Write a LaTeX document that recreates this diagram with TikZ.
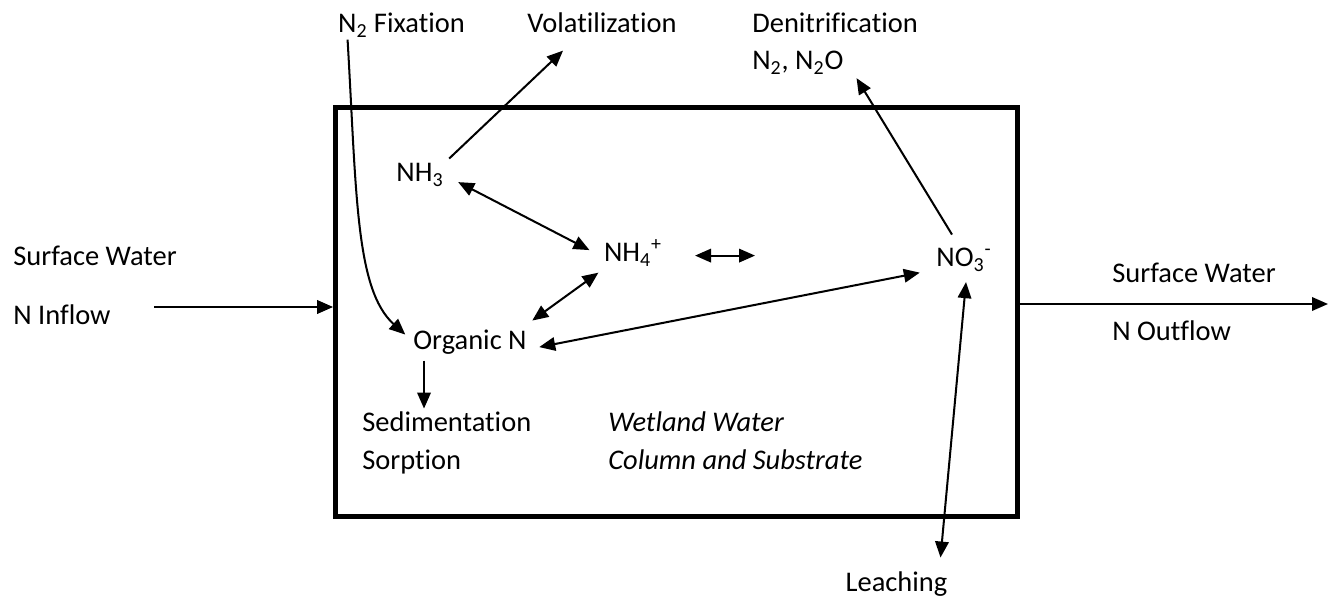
\documentclass[tikz,border=0pt]{standalone}
\usepackage{fontspec}
\setmainfont[Ligatures={NoCommon}]{Carlito}
\usetikzlibrary{arrows.meta,positioning,calc}

\begin{document}
\begin{tikzpicture}[
  x=0.02cm, y=-0.02cm,
  lbl/.style={font=\fontsize{16.2}{19}\selectfont, inner sep=3pt, text height=10pt, text depth=3pt},
  lblw/.style={lbl, anchor=west},
  wetbox/.style={rectangle, draw, line width=2.8pt, minimum width=13.64cm, minimum height=8.18cm},
  arr/.style={-{Triangle[length=0.32cm, width=0.27cm]}, line width=1.15pt},
  darr/.style={{Triangle[length=0.32cm, width=0.27cm]}-{Triangle[length=0.32cm, width=0.27cm]}, line width=1.15pt}
]
  \useasboundingbox (0,0) rectangle (1339,601);

  % --- 1. WETLAND BOX ---
  \node[wetbox] (wetland) at (676.5,312) {};

  % --- 2. LABELS OUTSIDE ---
  \node[lbl] (fix) at (401.5,26.6) {N\textsubscript{2} Fixation};
  \node[lbl] (vol) at (602,26.6) {Volatilization};
  \node[lblw] (denit) at (746.7,26.1) {Denitrification};
  \node[lblw] (n2o) at (746.7,63.6) {N\textsubscript{2}, N\textsubscript{2}O};
  \node[lblw] (swin) at (7.7,259.6) {Surface Water};
  \node[lblw] (nin) at (7.7,318.1) {N Inflow};
  \node[lblw] (swout) at (1106.7,276.1) {Surface Water};
  \node[lblw] (nout) at (1106.7,334.1) {N Outflow};
  \node[lbl] (leach) at (896.5,585.6) {Leaching};

  % --- 3. N FORMS INSIDE ---
  \node[lbl] (nh3) at (420,175.6) {NH\textsubscript{3}};
  \node[lbl] (nh4) at (633,255.6) {NH\textsubscript{4}\textsuperscript{+}};
  \node[lbl] (no3) at (964,260.6) {NO\textsubscript{3}\textsuperscript{-}};
  \node[lbl] (orgn) at (470,343.6) {Organic N};
  \node[lblw] (sed) at (356.7,425.6) {Sedimentation};
  \node[lblw] (sorp) at (356.7,463.6) {Sorption};
  \node[lblw, font=\fontsize{16.2}{19}\selectfont\itshape] (wet) at (602.7,425.6) {Wetland Water};
  \node[lblw, font=\fontsize{16.2}{19}\selectfont\itshape] (col) at (602.7,463.6) {Column and Substrate};

  % In- and outflow
  \coordinate (inflow) at (154,307);
  \coordinate (outflow) at (1328,304);
  \draw[arr] (inflow) -- (inflow -| wetland.west);
  \draw[arr] (outflow -| wetland.east) -- (outflow);

  % Transformations
  \draw[arr] ([xshift=0.3cm, yshift=0.08cm]fix.south west) .. controls +(9,153) and +(-50,-45) .. ([xshift=-0.05cm, yshift=-0.16cm]orgn.north west);
  \draw[arr] (nh3.north east) -- ([xshift=-0.78cm, yshift=-0.14cm]vol.south);
  \draw[darr] ([xshift=0.18cm, yshift=-0.13cm]nh3.east) -- ([xshift=-0.18cm, yshift=0.11cm]nh4.west);
  \draw[darr] ([xshift=0.55cm]nh4.east) -- ([xshift=1.75cm]nh4.east);
  \draw[darr] (nh4.south west) -- ([yshift=0.12cm]orgn.north east);
  \draw[darr] ([xshift=0.14cm, yshift=-0.07cm]orgn.east) -- ([xshift=-0.22cm, yshift=0.1cm]no3.south west);
  \draw[arr] ([xshift=-0.24cm, yshift=0.18cm]no3.north) -- ([xshift=0.15cm, yshift=0.05cm]n2o.south east);
  \draw[darr] ([xshift=0.04cm, yshift=-0.09cm]no3.south) -- ([xshift=0.88cm, yshift=0.22cm]leach.north);
  \draw[arr] ([xshift=-0.92cm]orgn.south) -- ([xshift=-0.92cm]orgn.south |- sed.north);

\end{tikzpicture}
\end{document}
